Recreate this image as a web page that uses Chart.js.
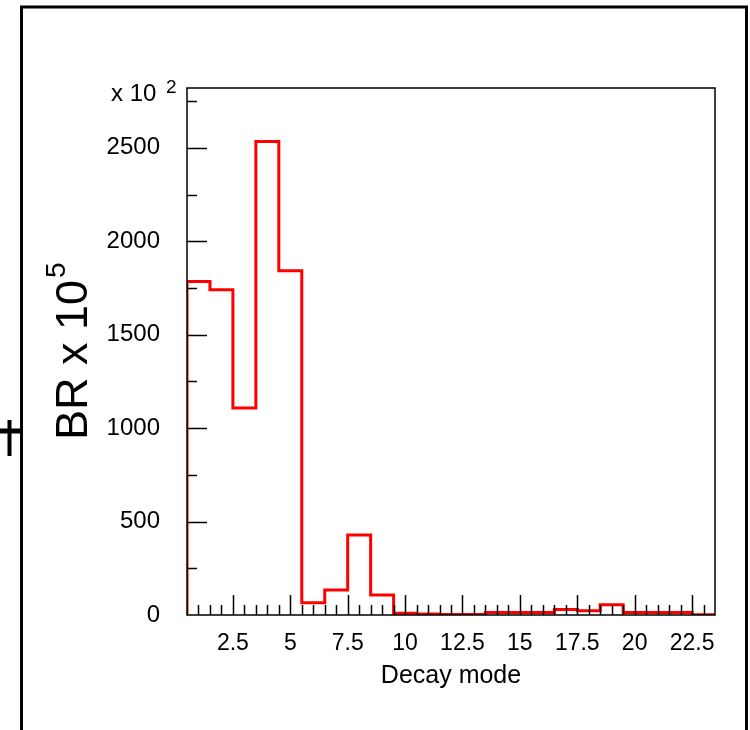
<!DOCTYPE html>
<html>
<head>
<meta charset="utf-8">
<script src="https://cdn.jsdelivr.net/npm/chart.js@4.4.0/dist/chart.umd.min.js"></script>
<style>
  html, body { margin: 0; padding: 0; background: #fff; }
  #chart { display: block; }
</style>
</head>
<body>
<canvas id="chart" width="750" height="730"></canvas>
<script>
// ─── Data ─────────────────────────────────────────
// decay modes are unit-width bins centred on the mode number
const decayModes = [1, 2, 3, 4, 5, 6, 7, 8, 9, 10, 11, 12, 13, 14, 15, 16, 17, 18, 19, 20, 21, 22, 23];
// BR x 10^5, in units of 10^2
const branching = [1785, 1740, 1107, 2534, 1842, 66, 134, 428, 107, 9, 5, 3, 3, 14, 14, 14, 30, 23, 55, 14, 14, 14, 2];
const xTickLabels = [2.5, 5, 7.5, 10, 12.5, 15, 17.5, 20, 22.5];
const yTickLabels = [0, 500, 1000, 1500, 2000, 2500];
const xRange = [0.5, 23.5];
const yRange = [0, 2820];

const FONT = "'Liberation Sans', Arial, Helvetica, sans-serif";

// histogram outline: left edge of every bin, then close at the last right edge
function histPoints() {
  const pts = [{ x: decayModes[0] - 0.5, y: 0 }];
  decayModes.forEach((m, i) => pts.push({ x: m - 0.5, y: branching[i] }));
  const last = decayModes.length - 1;
  pts.push({ x: decayModes[last] + 0.5, y: branching[last] });
  pts.push({ x: decayModes[last] + 0.5, y: 0 });
  return pts;
}

// ─── Frame, inner ticks and extra labels ──────────
const rootStyle = {
  id: 'rootStyle',
  afterDatasetsDraw(chart) {
    const { ctx, chartArea: a, scales: { x, y } } = chart;
    ctx.save();
    ctx.strokeStyle = '#000';
    ctx.lineWidth = 1.5;
    ctx.strokeRect(a.left, a.top, a.right - a.left, a.bottom - a.top);

    ctx.beginPath();
    for (let v = 1; v < xRange[1]; v += 0.5) {
      const px = Math.round(x.getPixelForValue(v)) + 0.5;
      const len = v % 2.5 === 0 ? 20 : 10;
      ctx.moveTo(px, a.bottom);
      ctx.lineTo(px, a.bottom - len);
    }
    for (let v = 250; v < yRange[1]; v += 250) {
      const py = Math.round(y.getPixelForValue(v)) + 0.5;
      const len = v % 500 === 0 ? 20 : 10;
      ctx.moveTo(a.left, py);
      ctx.lineTo(a.left + len, py);
    }
    ctx.stroke();
    ctx.restore();
  },
  afterDraw(chart) {
    const { ctx } = chart;
    ctx.save();
    ctx.fillStyle = '#000';
    ctx.textBaseline = 'alphabetic';
    ctx.textAlign = 'left';

    // exponent of the y axis
    ctx.font = `24px ${FONT}`;
    ctx.fillText('x 10', 111, 101);
    ctx.font = `19px ${FONT}`;
    ctx.fillText('2', 166, 93);

    // y axis title with superscript
    ctx.translate(87, 440);
    ctx.rotate(-Math.PI / 2);
    ctx.font = `45px ${FONT}`;
    ctx.fillText('BR x 10', 0, 0);
    const w = ctx.measureText('BR x 10').width;
    ctx.font = `28px ${FONT}`;
    ctx.fillText('5', w + 2, -22);
    ctx.restore();

    // outer pad border
    ctx.save();
    ctx.strokeStyle = '#000';
    ctx.lineWidth = 3;
    ctx.beginPath();
    ctx.moveTo(21.5, 730);
    ctx.lineTo(21.5, 7);
    ctx.lineTo(746.5, 7);
    ctx.lineTo(746.5, 730);
    ctx.stroke();

    // marker on the left border
    ctx.lineWidth = 5;
    ctx.beginPath();
    ctx.moveTo(0, 431);
    ctx.lineTo(21, 431);
    ctx.stroke();
    ctx.lineWidth = 4;
    ctx.beginPath();
    ctx.moveTo(9.5, 420);
    ctx.lineTo(9.5, 456);
    ctx.stroke();
    ctx.restore();
  }
};

// ─── Chart ────────────────────────────────────────
new Chart(document.getElementById('chart'), {
  type: 'line',
  data: {
    datasets: [{
      data: histPoints(),
      borderColor: '#ff0000',
      borderWidth: 3,
      pointRadius: 0,
      stepped: true,
      fill: false,
      tension: 0,
    }],
  },
  options: {
    responsive: false,
    animation: false,
    devicePixelRatio: 1,
    layout: { padding: { top: 88, right: 35, left: 0, bottom: 0 } },
    plugins: { legend: { display: false }, tooltip: { enabled: false } },
    scales: {
      x: {
        type: 'linear',
        min: xRange[0],
        max: xRange[1],
        grid: { display: false, drawTicks: false },
        border: { display: false },
        afterBuildTicks: s => { s.ticks = xTickLabels.map(v => ({ value: v })); },
        afterFit: s => { s.height = 115; },
        ticks: {
          font: { size: 23, family: FONT },
          color: '#000',
          padding: 15,
          maxRotation: 0,
          autoSkip: false,
          callback: v => String(v),
        },
        title: {
          display: true,
          text: 'Decay mode',
          font: { size: 25, family: FONT },
          color: '#000',
          padding: { top: 0, bottom: 39 },
        },
      },
      y: {
        type: 'linear',
        min: yRange[0],
        max: yRange[1],
        grid: { display: false, drawTicks: false },
        border: { display: false },
        afterBuildTicks: s => { s.ticks = yTickLabels.map(v => ({ value: v })); },
        afterFit: s => { s.width = 187; },
        ticks: {
          font: { size: 24, family: FONT },
          color: '#000',
          padding: 27,
          autoSkip: false,
          callback: v => String(v),
        },
      },
    },
  },
  plugins: [rootStyle],
});
</script>
</body>
</html>
